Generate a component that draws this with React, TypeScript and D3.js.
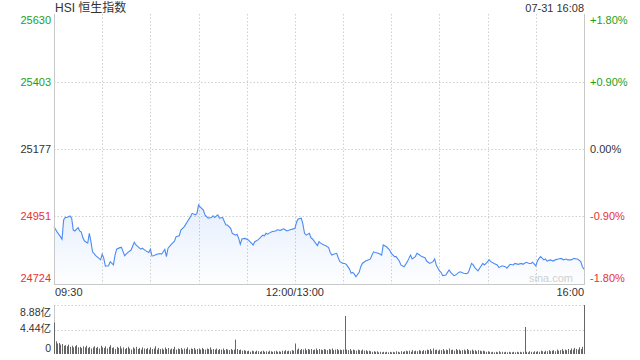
import React from "react";
import * as d3 from "d3";

const title = "HSI 恒生指数";
const stamp = "07-31 16:08";
const priceTicks = [25630, 25403, 25177, 24951, 24724];
const pctTicks = ["+1.80%", "+0.90%", "0.00%", "-0.90%", "-1.80%"];
const timeLabels = ["09:30", "12:00/13:00", "16:00"];
const volTickLabels = ["8.88亿", "4.44亿", "0"];
const volTicks = [8.88, 4.44, 0];

const minutes = [0,2,4,5,6,7,8,10,11,12,13,15,16,17,18,19,21,22,23,24,26,28,29,30,31,32,34,35,37,38,39,41,42,44,46,48,50,51,54,55,57,59,60,61,62,64,66,67,68,69,70,71,73,75,76,78,79,81,82,83,85,86,88,89,90,91,93,94,96,98,99,100,102,103,105,107,108,110,111,113,114,115,116,117,119,121,122,124,125,127,128,130,131,132,133,135,136,138,139,141,143,144,145,147,149,150,151,152,154,155,156,157,159,160,161,162,164,165,166,168,169,171,172,173,174,176,177,178,180,181,182,184,185,186,187,188,190,191,192,194,196,197,198,199,200,202,204,205,207,209,210,212,213,215,216,218,220,221,222,223,225,226,227,229,231,232,234,236,237,238,240,241,242,244,245,246,247,249,250,252,253,255,257,258,260,261,262,264,265,267,268,269,271,272,274,276,277,279,281,282,284,286,287,289,291,292,294,296,297,298,300,301,302,303,305,306,307,309,311,312,314,316,317,319,320,322,324,325,326,328,329,330];

const prices = [24916,24898,24883,24874,24939,24948,24947,24952,24945,24905,24902,24913,24902,24898,24879,24868,24861,24894,24866,24832,24819,24810,24805,24824,24810,24784,24785,24799,24788,24821,24841,24846,24847,24819,24830,24838,24864,24855,24841,24844,24836,24830,24841,24818,24819,24824,24826,24824,24832,24840,24816,24844,24857,24868,24883,24886,24905,24916,24924,24933,24950,24961,24956,24961,24989,24983,24972,24956,24945,24947,24953,24947,24956,24945,24947,24922,24922,24911,24894,24888,24891,24877,24857,24875,24877,24872,24866,24855,24866,24872,24877,24888,24886,24894,24891,24898,24900,24902,24906,24904,24909,24906,24902,24906,24909,24911,24931,24942,24945,24924,24894,24888,24894,24879,24875,24868,24853,24866,24861,24855,24853,24846,24830,24821,24824,24827,24812,24799,24793,24793,24790,24774,24760,24763,24757,24748,24763,24782,24793,24801,24805,24808,24821,24832,24830,24827,24821,24855,24849,24838,24827,24816,24816,24801,24788,24782,24799,24810,24821,24808,24816,24827,24824,24816,24812,24801,24793,24799,24808,24788,24768,24763,24752,24754,24763,24771,24763,24752,24754,24763,24765,24760,24759,24763,24793,24788,24779,24768,24777,24793,24788,24793,24805,24799,24793,24788,24779,24785,24782,24777,24790,24788,24793,24790,24793,24790,24797,24793,24793,24797,24785,24801,24810,24816,24805,24808,24801,24805,24801,24805,24808,24810,24805,24808,24805,24805,24810,24808,24808,24799,24782,24774];

// volume per minute, in 亿
const volumes = [
  5.7, 2.3, 1.9, 2.0, 1.7, 1.8, 1.5, 1.6, 1.4, 1.7,
  1.3, 1.5, 1.2, 1.4, 1.6, 1.2, 1.3, 1.1, 1.4, 1.2,
  1.5, 1.1, 1.3, 1.0, 1.2, 1.4, 1.1, 1.3, 1.0, 1.5,
  1.2, 1.1, 1.4, 1.0, 1.3, 1.6, 1.1, 1.2, 0.9, 1.3,
  1.1, 1.4, 1.0, 1.2, 0.9, 1.1, 1.3, 1.0, 0.8, 1.2,
  1.0, 1.3, 0.9, 1.1, 0.8, 1.2, 1.0, 0.9, 1.1, 0.8,
  1.2, 0.9, 1.0, 1.4, 0.8, 1.1, 0.9, 1.0, 0.8, 1.2,
  0.9, 1.1, 0.8, 1.0, 0.9, 1.3, 0.8, 1.0, 0.9, 1.1,
  0.8, 1.0, 0.9, 1.2, 0.8, 1.0, 0.9, 1.1, 0.8, 0.9,
  1.0, 0.8, 1.1, 0.9, 0.8, 1.0, 0.9, 1.2, 0.8, 0.9,
  0.8, 1.0, 0.7, 0.9, 0.8, 1.0, 0.7, 0.9, 0.8, 0.7,
  0.9, 0.7, 0.8, 2.6, 0.9, 0.7, 0.8, 0.6, 0.7, 0.6,
  0.5, 0.6, 0.4, 0.6, 0.5, 0.4, 0.6, 0.5, 0.4, 0.5,
  0.6, 0.4, 0.5, 0.4, 0.6, 0.5, 0.4, 0.5, 0.6, 0.4,
  0.5, 0.4, 0.6, 0.5, 0.7, 0.5, 0.6, 0.5, 0.7, 0.6,
  1.9, 0.8, 1.0, 0.7, 0.9, 0.8, 1.0, 0.7, 0.9, 0.8,
  0.9, 0.7, 0.8, 1.0, 0.7, 0.9, 0.8, 0.7, 0.9, 0.8,
  0.7, 0.9, 0.8, 1.0, 0.7, 0.8, 0.9, 0.7, 0.8, 0.7,
  0.8, 6.9, 0.8, 0.7, 0.9, 0.6, 0.8, 0.7, 0.6, 0.8,
  0.7, 0.6, 0.8, 0.6, 0.7, 0.5, 0.6, 0.5, 0.4, 0.5,
  0.4, 0.5, 0.3, 0.4, 0.3, 0.4, 0.3, 0.4, 0.3, 0.4,
  0.3, 0.4, 0.3, 0.5, 0.4, 0.3, 0.5, 0.4, 0.5, 0.6,
  0.5, 0.6, 0.4, 0.7, 0.5, 0.6, 0.5, 0.7, 0.6, 0.5,
  0.7, 0.6, 0.8, 0.7, 0.9, 0.6, 1.0, 0.7, 0.8, 0.6,
  0.8, 0.7, 0.9, 0.6, 0.8, 0.7, 1.0, 0.7, 0.8, 0.6,
  0.9, 0.7, 0.8, 0.6, 0.7, 0.8, 0.6, 0.9, 0.7, 0.6,
  0.8, 0.6, 0.7, 0.5, 0.7, 0.6, 0.5, 0.6, 0.5, 0.4,
  0.5, 0.4, 0.3, 0.4, 0.3, 0.4, 0.3, 0.5, 0.3, 0.4,
  0.3, 0.4, 0.3, 0.4, 0.3, 0.3, 0.4, 0.3, 0.4, 0.3,
  0.4, 0.3, 0.4, 4.9, 0.4, 0.3, 0.5, 0.4, 0.3, 0.5,
  0.4, 0.5, 0.4, 0.6, 0.5, 0.4, 0.6, 0.5, 0.7, 0.5,
  0.6, 0.7, 0.5, 0.8, 0.6, 0.7, 0.9, 0.6, 0.8, 0.7,
  0.9, 0.7, 1.0, 0.8, 1.1, 0.9, 0.8, 1.2, 0.9, 1.3,
  8.88,
];

const W = 640, H = 360;
const L = 54, R = 584, T = 14, B = 284;
const VT = 305, VB = 354;
const FONT = "'Liberation Sans', Arial, 'Noto Sans CJK SC', sans-serif";
const GREEN = "#1a9f1a", RED = "#e8322f", DARK = "#333";

export default function App() {
  const x = d3.scaleLinear().domain([0, 330]).range([L, R]);
  const y = d3.scaleLinear().domain([24724, 25630]).range([B, T]);
  const yv = d3.scaleLinear().domain([0, 8.88]).range([VB, VT]);
  const data = minutes.map((m, i) => ({ m, p: prices[i] }));
  const line = d3.line<any>().x(d => x(d.m)).y(d => y(d.p));
  const area = d3.area<any>().x(d => x(d.m)).y0(B).y1(d => y(d.p));
  const gridX = d3.range(30, 330, 30);
  const colorFor = (i: number) => (i < 2 ? GREEN : i === 2 ? DARK : RED);
  const labelY = (i: number, v: number) =>
    i === 0 ? y(v) + 10 : i === priceTicks.length - 1 ? y(v) - 2 : y(v) + 4;

  return (
    <svg width={W} height={H} style={{ position: "absolute", left: 0, top: 0, background: "#fff" }} fontFamily={FONT}>
      <defs>
        <linearGradient id="fillg" x1="0" y1="0" x2="0" y2="1">
          <stop offset="0%" stopColor="#4b8bf4" stopOpacity={0.14} />
          <stop offset="100%" stopColor="#4b8bf4" stopOpacity={0.01} />
        </linearGradient>
      </defs>
      <text x={55} y={12} fontSize={12} fill={DARK}>{title}</text>
      <text x={R} y={12} fontSize={11} fill={DARK} textAnchor="end">{stamp}</text>

      {priceTicks.slice(1, -1).map((v) => (
        <line key={"h" + v} x1={L} x2={R} y1={Math.round(y(v)) + 0.5} y2={Math.round(y(v)) + 0.5} stroke="#cfcfcf" strokeDasharray="1.5,2" />
      ))}
      {gridX.map((m) => (
        <line key={"v" + m} x1={Math.round(x(m)) + 0.5} x2={Math.round(x(m)) + 0.5} y1={T} y2={B} stroke="#cfcfcf" strokeDasharray="1.5,2" />
      ))}

      <path d={area(data) || ""} fill="url(#fillg)" />
      <path d={line(data) || ""} fill="none" stroke="#4b8bf4" strokeWidth={1.1} />

      <line x1={L + 0.5} x2={L + 0.5} y1={T} y2={B} stroke="#c8c8c8" />
      <line x1={R + 0.5} x2={R + 0.5} y1={T} y2={B} stroke="#c8c8c8" />
      <line x1={L} x2={R + 1} y1={B + 0.5} y2={B + 0.5} stroke="#c8c8c8" />

      <text x={573} y={282} fontSize={11} fill="#d0d0d0" textAnchor="end">sina.com</text>

      {priceTicks.map((v, i) => (
        <text key={"pl" + v} x={51} y={labelY(i, v)} fontSize={11} fill={colorFor(i)} textAnchor="end">{v}</text>
      ))}
      {pctTicks.map((t, i) => (
        <text key={"pr" + t} x={590} y={labelY(i, priceTicks[i])} fontSize={11} fill={colorFor(i)}>{t}</text>
      ))}

      <text x={55} y={296} fontSize={11} fill={DARK}>{timeLabels[0]}</text>
      <text x={x(150)} y={296} fontSize={11} fill={DARK} textAnchor="middle">{timeLabels[1]}</text>
      <text x={R} y={296} fontSize={11} fill={DARK} textAnchor="end">{timeLabels[2]}</text>

      {volTicks.slice(0, 2).map((v) => (
        <line key={"vg" + v} x1={L} x2={R} y1={Math.round(yv(v)) + 0.5} y2={Math.round(yv(v)) + 0.5} stroke="#cfcfcf" strokeDasharray="1.5,2" />
      ))}
      <line x1={L + 0.5} x2={L + 0.5} y1={VT} y2={VB} stroke="#c8c8c8" />
      {volumes.map((v, i) => (
        <rect key={"b" + i} x={Math.round(x(i))} y={yv(v)} width={1} height={VB - yv(v)} fill="#666" />
      ))}
      {volTicks.map((v, i) => (
        <text key={"vl" + i} x={51} y={i === 0 ? yv(v) + 11 : i === 2 ? yv(v) - 2 : yv(v) + 2} fontSize={10.5} fill={DARK} textAnchor="end">{volTickLabels[i]}</text>
      ))}
    </svg>
  );
}
